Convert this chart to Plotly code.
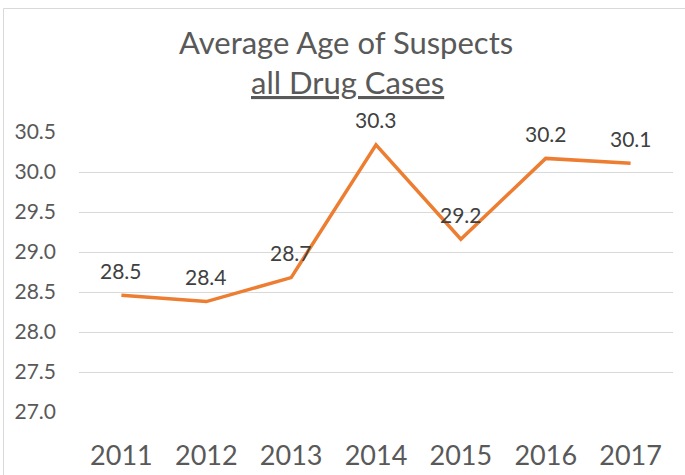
import plotly.graph_objects as go

years = ["2011", "2012", "2013", "2014", "2015", "2016", "2017"]
avg_age = [28.46, 28.38, 28.68, 30.34, 29.16, 30.17, 30.11]
title_line1 = "Average Age of Suspects"
title_line2 = "all Drug Cases"

FONT = "Lato, Carlito, Calibri, sans-serif"
W, H = 685, 475
L, R, T, B = 79, 685 - 673, 132, 475 - 412
pw, ph = W - L - R, H - T - B

def px_x(px):
    return (px - L) / pw

def px_y(py):
    return (H - B - py) / ph

fig = go.Figure()
fig.add_trace(go.Scatter(
    x=years, y=avg_age, mode="lines",
    line=dict(color="#ED7D31", width=3.5),
    hoverinfo="x+y", showlegend=False,
))

annotations = []
for i, v in enumerate(avg_age):
    annotations.append(dict(
        x=i, y=v, xref="x", yref="y", text=f"{v:.1f}", showarrow=False,
        yanchor="middle", yshift=25,
        font=dict(family=FONT, size=21, color="#404040"),
    ))

annotations.append(dict(
    x=px_x(346), y=px_y(42), xref="paper", yref="paper", text=title_line1,
    showarrow=False, xanchor="center", yanchor="middle",
    font=dict(family=FONT, size=31, color="#595959"),
))
annotations.append(dict(
    x=px_x(347), y=px_y(82), xref="paper", yref="paper", text=f"<u>{title_line2}</u>",
    showarrow=False, xanchor="center", yanchor="middle",
    font=dict(family=FONT, size=31, color="#595959"),
))

fig.update_layout(
    width=W, height=H,
    margin=dict(l=L, r=R, t=T, b=B, pad=0, autoexpand=False),
    paper_bgcolor="white", plot_bgcolor="white",
    annotations=annotations,
    shapes=[dict(type="rect", xref="paper", yref="paper",
                 x0=px_x(3.5), x1=px_x(700), y0=px_y(500), y1=px_y(8.5),
                 line=dict(color="#D9D9D9", width=1), fillcolor="rgba(0,0,0,0)",
                 layer="below")],
    xaxis=dict(
        type="category", categoryorder="array", categoryarray=years,
        range=[-0.5, len(years) - 0.5], autorange=False, automargin=False,
        showgrid=False, zeroline=False, showline=False,
        ticks="", tickfont=dict(family=FONT, size=27, color="#595959"),
        ticklabelstandoff=25,
    ),
    yaxis=dict(
        range=[27.0, 30.5], autorange=False, automargin=False,
        dtick=0.5, tick0=27.0, tickformat=".1f",
        showgrid=True, gridcolor="#D9D9D9", gridwidth=1,
        zeroline=False, showline=False, ticks="",
        tickfont=dict(family=FONT, size=21, color="#595959"),
        ticklabelstandoff=22,
    ),
)

fig.write_html(
    "out.html",
    config={"displayModeBar": False},
    post_script="document.body.style.margin='0';document.body.style.overflow='hidden';",
)
